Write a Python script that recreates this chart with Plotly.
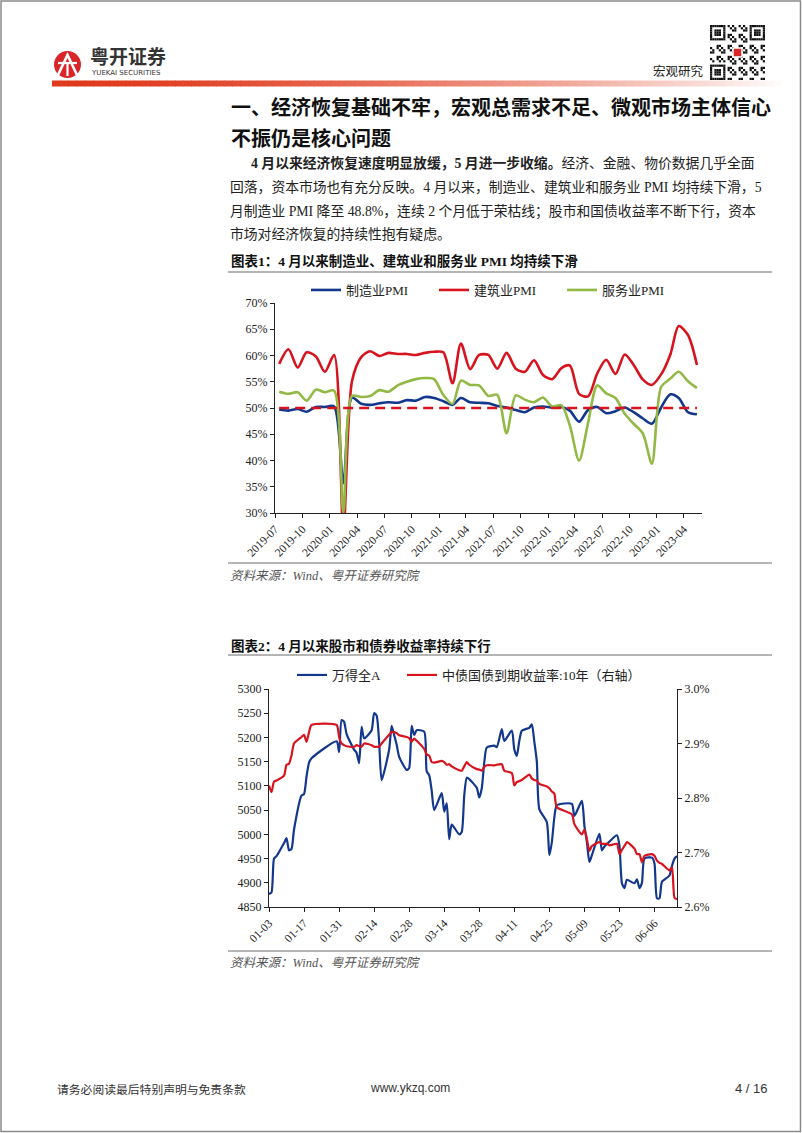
import plotly.graph_objects as go
import pandas as pd

W, H = 802, 1133
def X(p): return p / W
def Y(p): return 1 - p / H

# ---------------- Chart 1 data: PMI (monthly) ----------------
pmi_months = pd.date_range("2019-07-01", "2023-05-01", freq="MS")
mfg_pmi = [49.7, 49.5, 49.8, 49.3, 50.2, 50.2,
           50.3, 35.7, 52.0, 50.8, 50.6, 50.9, 51.1, 51.0, 51.5, 51.4, 52.1, 51.9,
           51.3, 50.6, 51.9, 51.1, 51.0, 50.9, 50.4, 50.1, 49.6, 49.2, 50.1, 50.3,
           50.1, 50.2, 49.5, 47.4, 49.6, 50.2, 49.0, 49.4, 50.1, 49.2, 48.0, 47.0,
           50.1, 52.6, 51.9, 49.2, 48.8]
cons_pmi = [58.4, 61.2, 57.7, 60.6, 59.8, 56.9,
            60.1, 26.6, 55.1, 59.7, 60.8, 59.9, 60.5, 60.3, 60.3, 60.1, 60.5, 60.7,
            60.6, 54.7, 62.3, 57.4, 60.1, 60.1, 57.5, 60.5, 57.5, 56.9, 59.1, 56.3,
            55.5, 57.6, 58.1, 52.7, 52.2, 56.6, 59.2, 56.5, 60.2, 58.2, 55.4, 54.4,
            56.4, 60.2, 65.6, 63.9, 58.2]
serv_pmi = [53.1, 52.7, 53.0, 51.4, 53.5, 53.0,
            53.3, 30.1, 52.3, 52.1, 52.3, 53.4, 53.1, 54.3, 55.0, 55.5, 55.7, 55.5,
            52.5, 50.8, 55.2, 54.4, 54.3, 52.3, 52.5, 45.2, 52.4, 51.6, 51.1, 52.0,
            50.3, 50.5, 46.7, 40.0, 47.1, 54.3, 52.8, 51.9, 48.9, 47.0, 45.1, 39.4,
            54.0, 55.6, 56.9, 55.1, 53.8]
boom_bust_line = 50

# ---------------- Chart 2 data: daily, 2023 ----------------
trade_dates = ["01-03", "01-04", "01-05", "01-06", "01-09", "01-10", "01-11", "01-12", "01-13", "01-16",
               "01-17", "01-18", "01-19", "01-20", "01-30", "01-31",
               "02-01", "02-02", "02-03", "02-06", "02-07", "02-08", "02-09", "02-10", "02-13", "02-14",
               "02-15", "02-16", "02-17", "02-20", "02-21", "02-22", "02-23", "02-24", "02-27", "02-28",
               "03-01", "03-02", "03-03", "03-06", "03-07", "03-08", "03-09", "03-10", "03-13", "03-14",
               "03-15", "03-16", "03-17", "03-20", "03-21", "03-22", "03-23", "03-24", "03-27", "03-28",
               "03-29", "03-30", "03-31",
               "04-03", "04-04", "04-06", "04-07", "04-10", "04-11", "04-12", "04-13", "04-14", "04-17",
               "04-18", "04-19", "04-20", "04-21", "04-24", "04-25", "04-26", "04-27", "04-28",
               "05-04", "05-05", "05-08", "05-09", "05-10", "05-11", "05-12", "05-15", "05-16", "05-17",
               "05-18", "05-19", "05-22", "05-23", "05-24", "05-25", "05-26", "05-29", "05-30", "05-31",
               "06-01", "06-02", "06-05", "06-06", "06-07", "06-08", "06-09", "06-12", "06-13", "06-14",
               "06-15"]
wind_all_a = [4877, 4880, 4950, 4955, 4982, 4992, 4967, 4970, 5010, 5080,
              5083, 5120, 5148, 5157, 5192, 5170,
              5236, 5232, 5207, 5175, 5168, 5147, 5222, 5198, 5215, 5250,
              5245, 5191, 5112, 5175, 5224, 5205, 5185, 5160, 5133, 5137,
              5224, 5205, 5215, 5212, 5130, 5122, 5090, 5050, 5085, 5047,
              5064, 4990, 5020, 5000, 5005, 5080, 5117, 5114, 5096, 5076,
              5095, 5148, 5179,
              5183, 5180, 5217, 5193, 5214, 5175, 5162, 5193, 5214, 5220,
              5227, 5191, 5150, 5052, 5025, 4957, 4984, 5035, 5060,
              5063, 5038, 5069, 5018, 4984, 4943, 4957, 5001, 4967, 4975,
              4980, 4985, 4998, 4977, 4899, 4889, 4906, 4899, 4907, 4889,
              4900, 4950, 4952, 4940, 4868, 4868, 4902, 4915, 4935, 4950,
              4955]
cgb_10y = [2.823, 2.811, 2.830, 2.832, 2.841, 2.861, 2.863, 2.878, 2.900, 2.912,
           2.916, 2.903, 2.921, 2.934, 2.934, 2.912,
           2.900, 2.897, 2.895, 2.894, 2.897, 2.895, 2.894, 2.900, 2.897, 2.894,
           2.894, 2.894, 2.900, 2.916, 2.921, 2.921, 2.919, 2.915, 2.912, 2.910,
           2.903, 2.909, 2.905, 2.890, 2.880, 2.878, 2.866, 2.865, 2.868, 2.866,
           2.861, 2.862, 2.858, 2.851, 2.850, 2.858, 2.866, 2.861, 2.853, 2.852,
           2.850, 2.857, 2.860,
           2.860, 2.861, 2.862, 2.850, 2.846, 2.823, 2.829, 2.831, 2.833, 2.843,
           2.836, 2.833, 2.832, 2.826, 2.821, 2.818, 2.812, 2.808, 2.783,
           2.770, 2.752, 2.733, 2.742, 2.725, 2.703, 2.712, 2.719, 2.716, 2.716,
           2.716, 2.713, 2.716, 2.697, 2.705, 2.712, 2.719, 2.707, 2.697, 2.697,
           2.682, 2.694, 2.697, 2.694, 2.685, 2.681, 2.679, 2.667, 2.673, 2.617,
           2.614]

BLUE = "#12378C"
RED = "#D7141E"
GREEN = "#92B946"
SERIF = "Liberation Serif, Noto Sans CJK SC"
CJK = "Noto Sans CJK SC"

pmi_x = pmi_months + pd.Timedelta(days=14)
d2 = pd.to_datetime(["2023-" + s for s in trade_dates])

fig = go.Figure()
fig.add_trace(go.Scatter(x=pmi_x, y=mfg_pmi, name="制造业PMI", mode="lines",
                         line=dict(color=BLUE, width=2.6, shape="spline", smoothing=0.8),
                         xaxis="x", yaxis="y", legend="legend"))
fig.add_trace(go.Scatter(x=pmi_x, y=cons_pmi, name="建筑业PMI", mode="lines",
                         line=dict(color=RED, width=2.6, shape="spline", smoothing=0.8),
                         xaxis="x", yaxis="y", legend="legend3"))
fig.add_trace(go.Scatter(x=pmi_x, y=serv_pmi, name="服务业PMI", mode="lines",
                         line=dict(color=GREEN, width=2.6, shape="spline", smoothing=0.8),
                         xaxis="x", yaxis="y", legend="legend4"))
fig.add_trace(go.Scatter(x=pmi_x, y=[boom_bust_line] * len(pmi_x), mode="lines", showlegend=False,
                         line=dict(color=RED, width=2.6, dash="10px,6px"),
                         xaxis="x", yaxis="y"))

fig.add_trace(go.Scatter(x=d2, y=wind_all_a, name="万得全A", mode="lines",
                         line=dict(color=BLUE, width=2.2, shape="spline", smoothing=0.6),
                         xaxis="x2", yaxis="y2", legend="legend2"))
fig.add_trace(go.Scatter(x=d2, y=cgb_10y, name="中债国债到期收益率:10年（右轴）", mode="lines",
                         line=dict(color=RED, width=2.2, shape="spline", smoothing=0.6),
                         xaxis="x2", yaxis="y3", legend="legend5"))

axis_common = dict(showline=True, linecolor="#222", linewidth=1, ticks="outside", ticklen=4,
                   tickcolor="#222", showgrid=False, zeroline=False,
                   tickfont=dict(family=SERIF, size=12, color="#222"))
xfont = dict(family=SERIF, size=11.5, color="#222")

def leg(x, y):
    return dict(orientation="h", x=X(x), y=Y(y), xanchor="left", yanchor="middle",
                font=dict(family=SERIF, size=13, color="#222"),
                bgcolor="rgba(0,0,0,0)", itemwidth=30)

fig.update_layout(
    width=W, height=H, margin=dict(l=0, r=0, t=0, b=0, pad=0, autoexpand=False),
    paper_bgcolor="white", plot_bgcolor="white",
    xaxis=dict(domain=[X(275), X(702)], anchor="y", type="date",
               range=["2019-07-01", "2023-06-01"], tick0="2019-07-01", dtick="M3",
               tickformat="%Y-%m", tickangle=-45, **{**axis_common, "tickfont": xfont}),
    yaxis=dict(domain=[Y(513), Y(303)], anchor="x", range=[30, 70], dtick=5, ticksuffix="%", **axis_common),
    xaxis2=dict(domain=[X(269), X(677)], anchor="y2", type="date",
                range=["2023-01-03", "2023-06-15"], tick0="2023-01-03", dtick=14 * 86400000,
                tickformat="%m-%d", tickangle=-45, **{**axis_common, "tickfont": xfont}),
    yaxis2=dict(domain=[Y(907), Y(689)], anchor="x2", range=[4850, 5300], dtick=50, **axis_common),
    yaxis3=dict(overlaying="y2", side="right", anchor="x2", range=[2.6, 3.0], dtick=0.1,
                tickformat=".1f", ticksuffix="%", **axis_common),
    legend=leg(306, 290),
    legend3=leg(434, 290),
    legend4=leg(562, 290),
    legend2=leg(292, 675),
    legend5=leg(402, 675),
)

shapes = []
# page border
shapes.append(dict(type="rect", xref="paper", yref="paper", x0=X(1), x1=X(800.5), y0=Y(1131.5), y1=Y(1),
                   line=dict(color="#8a8a8a", width=1.5), fillcolor="rgba(0,0,0,0)", layer="below"))
# header gradient bar
n = 90
x_start, x_end = 52, 790
for i in range(n):
    t = i / (n - 1)
    f = t ** 1.6
    r = int(224 + (255 - 224) * f)
    g = int(58 + (255 - 58) * f)
    b = int(28 + (255 - 28) * f)
    xa = x_start + (x_end - x_start) * i / n
    xb = x_start + (x_end - x_start) * (i + 1) / n + 0.6
    shapes.append(dict(type="rect", xref="paper", yref="paper", x0=X(xa), x1=X(xb), y0=Y(86.5), y1=Y(80.5),
                       line=dict(width=0), fillcolor=f"rgb({r},{g},{b})", layer="below"))
# logo
shapes.append(dict(type="circle", xref="paper", yref="paper", x0=X(54), x1=X(81), y0=Y(78), y1=Y(51),
                   line=dict(width=0), fillcolor="#D9262B"))
shapes.append(dict(type="path", xref="paper", yref="paper",
                   path=f"M {X(58)},{Y(75)} L {X(67.5)},{Y(55)} L {X(77)},{Y(75)}",
                   line=dict(color="white", width=2.6)))
shapes.append(dict(type="line", xref="paper", yref="paper", x0=X(58), x1=X(77), y0=Y(63), y1=Y(63),
                   line=dict(color="white", width=2.2)))
shapes.append(dict(type="line", xref="paper", yref="paper", x0=X(67.5), x1=X(67.5), y0=Y(63), y1=Y(76),
                   line=dict(color="white", width=2.2)))
# QR code imitation
qx0, qy0, qs, nm = 710, 25, 55, 25
m = qs / nm
def blk(i, j):
    shapes.append(dict(type="rect", xref="paper", yref="paper", x0=X(qx0 + i * m), x1=X(qx0 + (i + 1) * m),
                       y0=Y(qy0 + (j + 1) * m), y1=Y(qy0 + j * m), line=dict(width=0), fillcolor="#111"))
def finder(ci, cj):
    for a in range(7):
        for b2 in range(7):
            if a in (0, 6) or b2 in (0, 6) or (2 <= a <= 4 and 2 <= b2 <= 4):
                blk(ci + a, cj + b2)
finder(0, 0); finder(nm - 7, 0); finder(0, nm - 7)
for i in range(nm):
    for j in range(nm):
        if (i < 8 and j < 8) or (i >= nm - 8 and j < 8) or (i < 8 and j >= nm - 8):
            continue
        if (i * 7 + j * 13 + i * j) % 5 < 2:
            blk(i, j)
shapes.append(dict(type="rect", xref="paper", yref="paper", x0=X(733), x1=X(742), y0=Y(57), y1=Y(48),
                   line=dict(color="white", width=1.5), fillcolor="#D9262B"))
# rules
for yy in (272, 563, 655, 951):
    shapes.append(dict(type="line", xref="paper", yref="paper", x0=X(228), x1=X(772), y0=Y(yy), y1=Y(yy),
                       line=dict(color="#b5b5b5", width=1.8)))
fig.update_layout(shapes=shapes)

ann = []
def text(x, y, s, size, family=CJK, color="#222", anchor="left", **kw):
    ann.append(dict(xref="paper", yref="paper", x=X(x), y=Y(y), text=s, showarrow=False,
                    xanchor=anchor, yanchor="middle", font=dict(family=family, size=size, color=color), **kw))

text(88, 55.5, "<b>粤开证券</b>", 19, color="#333")
text(89, 73.5, "YUEKAI SECURITIES", 7, family="DejaVu Sans", color="#333")
text(706, 70, "宏观研究", 12.5, anchor="right")
text(229, 107, "<b>一、经济恢复基础不牢，宏观总需求不足、微观市场主体信心</b>", 20, color="#111")
text(229, 137, "<b>不振仍是核心问题</b>", 20, color="#111")

pf = SERIF
text(249, 163, "<b>4 月以来经济恢复速度明显放缓，5 月进一步收缩。</b>经济、金融、物价数据几乎全面", 13.8, family=pf)
text(228, 187, "回落，资本市场也有充分反映。4 月以来，制造业、建筑业和服务业 PMI 均持续下滑，5", 13.8, family=pf)
text(228, 211, "月制造业 PMI 降至 48.8%，连续 2 个月低于荣枯线；股市和国债收益率不断下行，资本", 13.8, family=pf)
text(228, 234, "市场对经济恢复的持续性抱有疑虑。", 13.8, family=pf)

text(229, 261, "<b>图表1：4 月以来制造业、建筑业和服务业 PMI 均持续下滑</b>", 13.5, family=pf, color="#111")
text(228, 576, "<i>资料来源：Wind、粤开证券研究院</i>", 12.5, family=pf, color="#555")
text(229, 646, "<b>图表2：4 月以来股市和债券收益率持续下行</b>", 13.5, family=pf, color="#111")
text(228, 963, "<i>资料来源：Wind、粤开证券研究院</i>", 12.5, family=pf, color="#555")

text(55, 1088, "请务必阅读最后特别声明与免责条款", 11.8, color="#333")
text(410, 1088, "www.ykzq.com", 12, family="Liberation Sans Narrow, Liberation Sans", color="#333", anchor="center")
text(770, 1088, "4 / 16", 13, family="Liberation Sans Narrow, Liberation Sans", color="#333", anchor="right")

fig.update_layout(annotations=ann)
fig.write_html("out.html", config={"displayModeBar": False},
               post_script="document.body.style.margin='0';document.body.style.overflow='hidden';")
